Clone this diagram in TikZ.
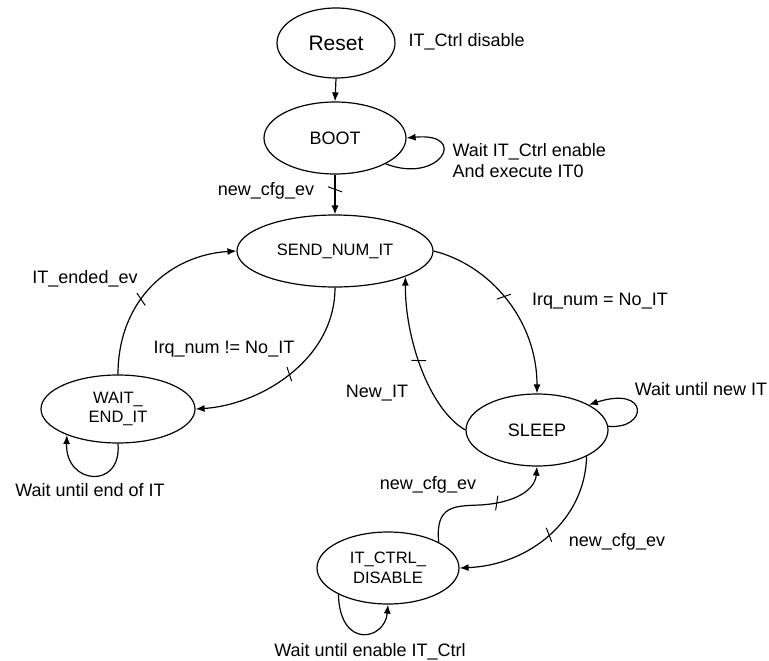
\documentclass[tikz,border=0pt]{standalone}
\usepackage{fontspec}
\setmainfont{Liberation Sans}
\usetikzlibrary{shapes.geometric,arrows.meta,decorations.markings}
\begin{document}
\begin{tikzpicture}[x=1pt,y=-1pt, line width=1.2pt,
  state/.style={draw, ellipse, inner sep=0pt, align=center, font=\fontsize{16.5}{19.5}\selectfont},
  lbl/.style={font=\fontsize{18}{21}\selectfont, inner sep=0pt, align=left},
  arr/.style={-{Latex[length=9pt,width=7pt]}},
  tickat/.style={postaction={decorate}, decoration={markings, mark=at position #1 with {\draw[line width=1pt,-] (-2.5pt,-7pt) -- (2.5pt,7pt);}}}
]
\useasboundingbox (0,0) rectangle (769,661);

% states
\node[state, minimum width=118pt, minimum height=70pt, font=\fontsize{21}{24}\selectfont] (reset) at (336,43) {Reset};
\node[state, minimum width=142pt, minimum height=72pt, font=\fontsize{18}{21}\selectfont] (boot) at (335,138) {BOOT};
\node[state, minimum width=196pt, minimum height=72pt] (send) at (335,251) {SEND\_NUM\_IT};
\node[state, minimum width=154pt, minimum height=68pt] (wait) at (118,409) {WAIT\_\\END\_IT};
\node[state, minimum width=142pt, minimum height=72pt, font=\fontsize{18}{21}\selectfont] (sleep) at (537,430) {SLEEP};
\node[state, minimum width=142pt, minimum height=72pt] (dis) at (388,568) {IT\_CTRL\_\\DISABLE};

% labels
\node[lbl, anchor=west] (lreset) at (408,42) {IT\_Ctrl disable};
\node[lbl, anchor=west] (lboot) at (452,161) {Wait IT\_Ctrl enable\\And execute IT0};
\node[lbl] (lcfg1) at (266,191) {new\_cfg\_ev};
\node[lbl] (lended) at (85,279) {IT\_ended\_ev};
\node[lbl] (lneq) at (224,349) {Irq\_num != No\_IT};
\node[lbl] (leq) at (600,301) {Irq\_num = No\_IT};
\node[lbl] (lnew) at (377,393) {New\_IT};
\node[lbl] (lwnew) at (701,389) {Wait until new IT};
\node[lbl] (lcfg2) at (428,485) {new\_cfg\_ev};
\node[lbl] (lcfg3) at (617,542) {new\_cfg\_ev};
\node[lbl] (lwend) at (90,490) {Wait until end of IT};
\node[lbl] (lwen) at (370,652) {Wait until enable IT\_Ctrl};

% transitions
\coordinate (sbend) at (480,505);
\draw[arr] (reset.south) -- (boot.north);
\draw[arr, tickat=0.37] (boot.south) -- (send.north);
\draw[arr] (boot.-27.5) .. controls (440,185) and (470,132) .. (boot.east);
\draw[arr, tickat=0.5] (send.south) .. controls (335,360) and (260,405) .. (wait.east);
\draw[arr, tickat=0.42] (wait.north) .. controls (118,300) and (170,255) .. (send.west);
\draw[arr, tickat=0.45] (send.east) .. controls (490,265) and (537,320) .. (sleep.north);
\draw[arr, tickat=0.5] (sleep.west) .. controls (430,410) and (405,340) .. (send.-20.4);
\draw[arr] (sleep.3) .. controls (648,430) and (650,385) .. (sleep.26);
\draw[arr, tickat=0.48] (sleep.-28.4) .. controls (585,520) and (530,565) .. (dis.east);
\draw[arr, tickat=0.59] (dis.27.5) .. controls (435,505) and (455,506) .. (sbend) .. controls (515,503) and (535,490) .. (sleep.south);
\draw[arr] (dis.208.4) .. controls (340,650) and (385,640) .. (dis.south);
\draw[arr] (wait.south) .. controls (122,490) and (65,485) .. (wait.207.8);
\end{tikzpicture}
\end{document}
